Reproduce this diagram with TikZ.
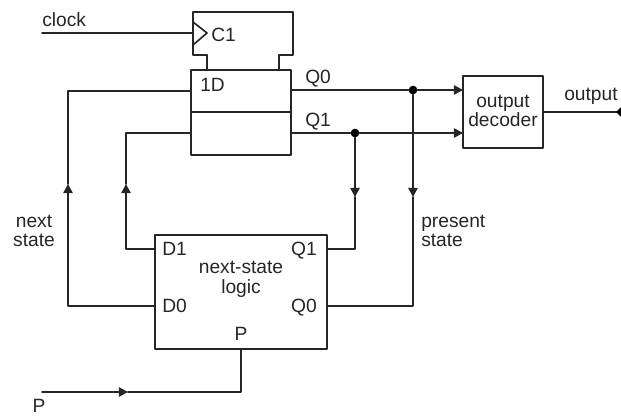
\documentclass[tikz,border=0pt]{standalone}
\usepackage{fontspec}
\setmainfont{Liberation Sans}
\usetikzlibrary{arrows.meta}
\definecolor{ink}{gray}{0.15}
\begin{document}
\begin{tikzpicture}[x=0.75pt,y=-0.75pt,
  wire/.style={draw=ink,line width=1.25pt,line cap=round,line join=round},
  tip/.style={wire,-{Triangle[length=6.8pt,width=7pt]}},
  box/.style={draw=ink,line width=1.35pt,line join=round,inner sep=0pt,outer sep=0pt,anchor=north west},
  lbl/.style={inner sep=0pt,text=ink,font=\fontsize{14.4pt}{14.8pt}\selectfont,align=center},
  dot/.style={circle,fill=black,inner sep=0pt,minimum size=6.5pt}]
\useasboundingbox (0,0) rectangle (621,415);
% boxes
\node[box,minimum width=75pt,minimum height=64pt] (ff) at (191,70) {};
\node[box,minimum width=60pt,minimum height=54pt] (dec) at (463,76) {};
\node[box,minimum width=129pt,minimum height=85.5pt] (logic) at (155,235) {};
% coordinates
\coordinate (clk) at (42,33);
\coordinate (ctl) at (193,12);
\coordinate (ctr) at (293,12);
\coordinate (ctlb) at (193,55);
\coordinate (ctrb) at (293,55);
\coordinate (cta) at (207,55);
\coordinate (ctb) at (279,55);
\coordinate (tria) at (193,22);
\coordinate (trib) at (207,33);
\coordinate (tric) at (193,45);
\coordinate (clkin) at (193,33);
\coordinate (q0out) at (291,90);
\coordinate (q1out) at (291,133);
\coordinate (d0in) at (191,91);
\coordinate (d1in) at (191,133);
\coordinate (q0in) at (463,90);
\coordinate (q1in) at (463,133);
\coordinate (outa) at (543,112);
\coordinate (outb) at (621,112);
\coordinate (ld0) at (155,306);
\coordinate (ld1) at (155,249);
\coordinate (lq1) at (327,249);
\coordinate (lq0) at (327,306);
\coordinate (p0) at (42,392);
\coordinate (pm) at (128,392);
\coordinate (pc) at (241,392);
\coordinate (pt) at (241,349);
\coordinate (ca0) at (68,306);
\coordinate (cam) at (68,184);
\coordinate (cat) at (68,91);
\coordinate (cb0) at (126,249);
\coordinate (cbm) at (126,184);
\coordinate (cbt) at (126,133);
\coordinate (cc0) at (355,249);
\coordinate (ccm) at (355,197);
\coordinate (cd0) at (413,306);
\coordinate (cdm) at (413,197);
\node[dot] (j0) at (413,90) {};
\node[dot] (j1) at (355,133) {};
% divider
\draw[wire] (ff.west |- 0,112) -- (ff.east |- 0,112);
% clock block
\draw[wire] (cta) -- (cta |- ff.north);
\draw[wire] (ctb) -- (ctb |- ff.north);
\draw[wire] (cta) -- (ctlb) -- (ctl) -- (ctr) -- (ctrb) -- (ctb);
\draw[wire] (tria) -- (trib) -- (tric);
\draw[wire] (clk) -- (clkin);
% wires
\draw[wire] (q0out) -- (j0);
\draw[tip] (j0) -- (q0in);
\draw[wire] (q1out) -- (j1);
\draw[tip] (j1) -- (q1in);
\draw[wire] (outa) -- (outb);
\fill[black] (621,107) -- (616,112) -- (621,117) -- cycle;
\draw[tip] (ld0) -- (ca0) -- (cam);
\draw[wire] (cam) -- (cat) -- (d0in);
\draw[tip] (ld1) -- (cb0) -- (cbm);
\draw[wire] (cbm) -- (cbt) -- (d1in);
\draw[tip] (j1) -- (ccm);
\draw[wire] (ccm) -- (cc0) -- (lq1);
\draw[tip] (j0) -- (cdm);
\draw[wire] (cdm) -- (cd0) -- (lq0);
\draw[tip] (p0) -- (pm);
\draw[wire] (pm) -- (pc) -- (pt);
% labels
\node[lbl,anchor=west] (tclock) at (42,20) {clock};
\node[lbl,anchor=west] (tc1) at (211,35) {C1};
\node[lbl,anchor=west] (t1d) at (200,85) {1D};
\node[lbl,anchor=west] (tq0) at (305,78.5) {Q0};
\node[lbl,anchor=west] (tq1) at (305,121.5) {Q1};
\node[lbl] (tdec) at (503,111) {output\\decoder};
\node[lbl,anchor=west] (tout) at (564,96) {output};
\node[lbl] (tnext) at (34,231) {next\\state};
\node[lbl,anchor=west,align=left] (tpres) at (421,231) {present\\state};
\node[lbl,anchor=west] (td1) at (162,249) {D1};
\node[lbl,anchor=west] (td0) at (162,306) {D0};
\node[lbl,anchor=east] (tq1l) at (317,250.5) {Q1};
\node[lbl,anchor=east] (tq0l) at (317,307.5) {Q0};
\node[lbl] (tlogic) at (241,279) {next-state\\logic};
\node[lbl] (tp) at (241,334) {P};
\node[lbl] (tpin) at (39,406) {P};
\end{tikzpicture}
\end{document}
